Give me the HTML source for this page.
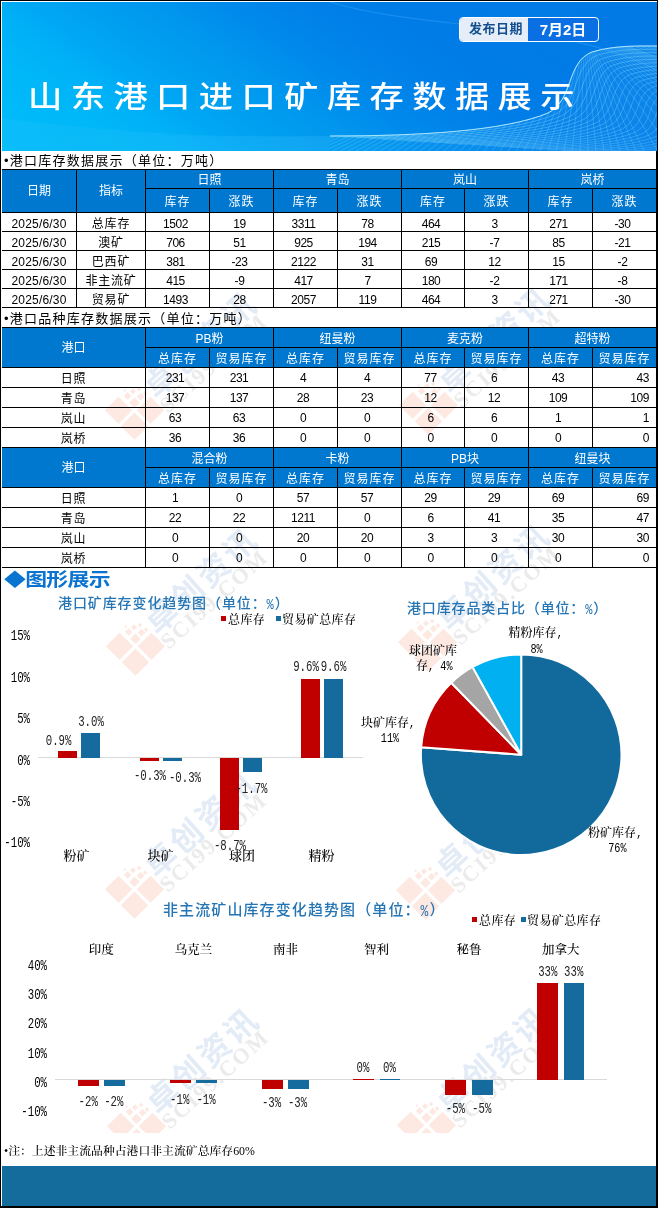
<!DOCTYPE html><html lang="zh"><head><meta charset="utf-8"><title>山东港口进口矿库存数据展示</title><style>
html,body{margin:0;padding:0;background:#fff}
body{width:658px;height:1208px;position:relative;overflow:hidden;font-family:"Liberation Sans","Noto Sans CJK SC",sans-serif;color:#000}
.a{position:absolute}
.c{position:absolute;text-align:center;font-size:12px;white-space:nowrap;overflow:visible}
.h{background:#0078d0;color:#fff}
.ln{position:absolute;background:#000}
.sec{position:absolute;left:4px;font-size:13px;letter-spacing:1.25px;white-space:nowrap;line-height:16px}
.s{font-family:"Liberation Serif","Noto Serif CJK SC",serif}
.lbl{position:absolute;font-family:"Liberation Serif","Noto Serif CJK SC",serif;font-weight:500;font-size:12px;white-space:nowrap;line-height:12px;text-align:center}
.dl{position:absolute;font-family:"Liberation Mono",monospace;font-size:10.7px;white-space:nowrap;line-height:10px;text-align:center;color:#222;transform:scaleY(1.3);margin-top:2.5px}
.n{font-family:"Liberation Mono",monospace;font-size:10.2px;display:inline-block;transform:scaleY(1.2)}
.lg{letter-spacing:.4px}
.ct{position:absolute;font-size:14px;font-weight:500;color:#2575b4;white-space:nowrap;line-height:16px;letter-spacing:.9px}
.wm{position:absolute;width:0;height:0;transform:rotate(-42deg)}

</style></head><body>
<div class="a" style="left:2px;top:2px;width:655px;height:149px;overflow:hidden;background:linear-gradient(35deg,#00bcfa 0%,#00b7f8 15%,#00b1f7 22%,#00a8f4 27%,#00a0f1 33%,#0096ee 42%,#008aeb 50%,#0080e8 60%,#007ce7 68%,#027ae6 100%)">
<svg class="a" style="left:0;top:0" width="655" height="149" viewBox="2 2 655 149"><defs><linearGradient id="g1" x1="0" y1="0" x2="1" y2="0"><stop offset="0" stop-color="#40c4ff" stop-opacity="0"/><stop offset=".45" stop-color="#40c4ff" stop-opacity=".25"/><stop offset="1" stop-color="#39b0ff" stop-opacity=".45"/></linearGradient></defs><path d="M330.0 136.0 C420.0 136.0 505.0 131.0 548.0 113.0 C574.0 100.0 566.0 62.0 592.0 52.0 C615.0 45.0 640.0 46.0 660.0 46.0 L660 151 L2 151 L2 136 Z" fill="url(#g1)" opacity=".42"/><path d="M2 118 C120 134 240 138 330 136 L330 151 L2 151 Z" fill="#4fd0ff" opacity=".12"/><path d="M330.0 136.0 C420.0 136.0 505.0 131.0 548.0 113.0 C574.0 100.0 566.0 62.0 592.0 52.0 C615.0 45.0 640.0 46.0 660.0 46.0" fill="none" stroke="#9fe8ff" stroke-opacity="0.55" stroke-width=".6"/><path d="M342.9 136.8 C430.4 136.8 513.0 132.0 554.8 114.5 C580.0 101.8 572.3 64.9 597.5 55.2 C619.9 48.4 644.2 49.3 663.6 49.3" fill="none" stroke="#9fe8ff" stroke-opacity="0.54" stroke-width=".6"/><path d="M355.8 137.6 C440.7 137.6 521.0 132.9 561.6 115.9 C586.1 103.6 578.5 67.8 603.1 58.3 C624.8 51.7 648.4 52.7 667.3 52.7" fill="none" stroke="#9fe8ff" stroke-opacity="0.53" stroke-width=".6"/><path d="M368.6 138.4 C451.1 138.4 528.9 133.9 568.3 117.4 C592.1 105.5 584.8 70.7 608.6 61.5 C629.7 55.1 652.6 56.0 670.9 56.0" fill="none" stroke="#9fe8ff" stroke-opacity="0.53" stroke-width=".6"/><path d="M381.5 139.2 C461.4 139.2 536.9 134.8 575.1 118.8 C598.2 107.3 591.1 73.5 614.2 64.7 C634.6 58.4 656.8 59.3 674.6 59.3" fill="none" stroke="#9fe8ff" stroke-opacity="0.52" stroke-width=".6"/><path d="M394.4 140.1 C471.8 140.1 544.9 135.8 581.9 120.3 C604.2 109.1 597.4 76.4 619.7 67.8 C639.5 61.8 661.0 62.7 678.2 62.7" fill="none" stroke="#9fe8ff" stroke-opacity="0.51" stroke-width=".6"/><path d="M407.3 140.9 C482.2 140.9 552.9 136.7 588.7 121.7 C610.3 110.9 603.6 79.3 625.3 71.0 C644.4 65.2 665.2 66.0 681.8 66.0" fill="none" stroke="#9fe8ff" stroke-opacity="0.50" stroke-width=".6"/><path d="M420.2 141.7 C492.5 141.7 560.9 137.7 595.4 123.2 C616.3 112.7 609.9 82.2 630.8 74.1 C649.3 68.5 669.4 69.3 685.5 69.3" fill="none" stroke="#9fe8ff" stroke-opacity="0.49" stroke-width=".6"/><path d="M433.0 142.5 C502.9 142.5 568.8 138.6 602.2 124.6 C622.4 114.6 616.2 85.1 636.4 77.3 C654.2 71.9 673.6 72.7 689.1 72.7" fill="none" stroke="#9fe8ff" stroke-opacity="0.49" stroke-width=".6"/><path d="M445.9 143.3 C513.2 143.3 576.8 139.6 609.0 126.1 C628.4 116.4 622.4 88.0 641.9 80.5 C659.1 75.2 677.8 76.0 692.8 76.0" fill="none" stroke="#9fe8ff" stroke-opacity="0.48" stroke-width=".6"/><path d="M458.8 144.1 C523.6 144.1 584.8 140.5 615.8 127.6 C634.5 118.2 628.7 90.8 647.4 83.6 C664.0 78.6 682.0 79.3 696.4 79.3" fill="none" stroke="#9fe8ff" stroke-opacity="0.47" stroke-width=".6"/><path d="M471.7 144.9 C534.0 144.9 592.8 141.5 622.5 129.0 C640.5 120.0 635.0 93.7 653.0 86.8 C668.9 82.0 686.2 82.7 700.0 82.7" fill="none" stroke="#9fe8ff" stroke-opacity="0.46" stroke-width=".6"/><path d="M484.6 145.7 C544.3 145.7 600.8 142.4 629.3 130.5 C646.6 121.8 641.3 96.6 658.5 90.0 C673.8 85.3 690.4 86.0 703.7 86.0" fill="none" stroke="#9fe8ff" stroke-opacity="0.45" stroke-width=".6"/><path d="M497.4 146.6 C554.7 146.6 608.7 143.4 636.1 131.9 C652.6 123.7 647.5 99.5 664.1 93.1 C678.7 88.7 694.6 89.3 707.3 89.3" fill="none" stroke="#9fe8ff" stroke-opacity="0.45" stroke-width=".6"/><path d="M510.3 147.4 C565.0 147.4 616.7 144.3 642.9 133.4 C658.7 125.5 653.8 102.4 669.6 96.3 C683.6 92.0 698.8 92.6 711.0 92.6" fill="none" stroke="#9fe8ff" stroke-opacity="0.44" stroke-width=".6"/><path d="M523.2 148.2 C575.4 148.2 624.7 145.3 649.6 134.8 C664.7 127.3 660.1 105.3 675.2 99.5 C688.5 95.4 703.0 96.0 714.6 96.0" fill="none" stroke="#9fe8ff" stroke-opacity="0.43" stroke-width=".6"/><path d="M536.1 149.0 C585.8 149.0 632.7 146.2 656.4 136.3 C670.8 129.1 666.4 108.1 680.7 102.6 C693.4 98.8 707.2 99.3 718.2 99.3" fill="none" stroke="#9fe8ff" stroke-opacity="0.42" stroke-width=".6"/><path d="M549.0 149.8 C596.1 149.8 640.7 147.2 663.2 137.8 C676.8 130.9 672.6 111.0 686.2 105.8 C698.3 102.1 711.4 102.6 721.9 102.6" fill="none" stroke="#9fe8ff" stroke-opacity="0.41" stroke-width=".6"/><path d="M561.8 150.6 C606.5 150.6 648.6 148.1 670.0 139.2 C682.9 132.8 678.9 113.9 691.8 109.0 C703.2 105.5 715.6 106.0 725.5 106.0" fill="none" stroke="#9fe8ff" stroke-opacity="0.41" stroke-width=".6"/><path d="M574.7 151.4 C616.8 151.4 656.6 149.1 676.7 140.7 C688.9 134.6 685.2 116.8 697.3 112.1 C708.1 108.8 719.8 109.3 729.2 109.3" fill="none" stroke="#9fe8ff" stroke-opacity="0.40" stroke-width=".6"/><path d="M587.6 152.2 C627.2 152.2 664.6 150.0 683.5 142.1 C695.0 136.4 691.4 119.7 702.9 115.3 C713.0 112.2 724.0 112.6 732.8 112.6" fill="none" stroke="#9fe8ff" stroke-opacity="0.39" stroke-width=".6"/><path d="M600.5 153.1 C637.6 153.1 672.6 151.0 690.3 143.6 C701.0 138.2 697.7 122.6 708.4 118.4 C717.9 115.6 728.2 116.0 736.4 116.0" fill="none" stroke="#9fe8ff" stroke-opacity="0.38" stroke-width=".6"/><path d="M613.4 153.9 C647.9 153.9 680.6 151.9 697.1 145.0 C707.1 140.0 704.0 125.4 714.0 121.6 C722.8 118.9 732.4 119.3 740.1 119.3" fill="none" stroke="#9fe8ff" stroke-opacity="0.37" stroke-width=".6"/><path d="M626.2 154.7 C658.3 154.7 688.5 152.9 703.8 146.5 C713.1 141.9 710.3 128.3 719.5 124.8 C727.7 122.3 736.6 122.6 743.7 122.6" fill="none" stroke="#9fe8ff" stroke-opacity="0.37" stroke-width=".6"/><path d="M639.1 155.5 C668.6 155.5 696.5 153.8 710.6 147.9 C719.2 143.7 716.5 131.2 725.1 127.9 C732.6 125.6 740.8 126.0 747.4 126.0" fill="none" stroke="#9fe8ff" stroke-opacity="0.36" stroke-width=".6"/><path d="M652.0 156.3 C679.0 156.3 704.5 154.8 717.4 149.4 C725.2 145.5 722.8 134.1 730.6 131.1 C737.5 129.0 745.0 129.3 751.0 129.3" fill="none" stroke="#9fe8ff" stroke-opacity="0.35" stroke-width=".6"/><path d="M664.9 157.1 C689.4 157.1 712.5 155.8 724.2 150.9 C731.2 147.3 729.1 137.0 736.1 134.3 C742.4 132.4 749.2 132.6 754.6 132.6" fill="none" stroke="#9fe8ff" stroke-opacity="0.34" stroke-width=".6"/><path d="M677.8 157.9 C699.7 157.9 720.5 156.7 731.0 152.3 C737.3 149.1 735.3 139.9 741.7 137.4 C747.3 135.7 753.4 136.0 758.3 136.0" fill="none" stroke="#9fe8ff" stroke-opacity="0.33" stroke-width=".6"/><path d="M690.6 158.7 C710.1 158.7 728.4 157.7 737.7 153.8 C743.3 151.0 741.6 142.8 747.2 140.6 C752.2 139.1 757.6 139.3 761.9 139.3" fill="none" stroke="#9fe8ff" stroke-opacity="0.33" stroke-width=".6"/><path d="M703.5 159.5 C720.4 159.5 736.4 158.6 744.5 155.2 C749.4 152.8 747.9 145.6 752.8 143.8 C757.1 142.4 761.8 142.6 765.6 142.6" fill="none" stroke="#9fe8ff" stroke-opacity="0.32" stroke-width=".6"/><clipPath id="cp"><path d="M330.0 136.0 C420.0 136.0 505.0 131.0 548.0 113.0 C574.0 100.0 566.0 62.0 592.0 52.0 C615.0 45.0 640.0 46.0 660.0 46.0 L660 151 L330 151 Z"/></clipPath><path clip-path="url(#cp)" d="M585 30 L300.0 151 M585 30 L308.0 151 M585 30 L316.0 151 M585 30 L324.0 151 M585 30 L332.0 151 M585 30 L340.0 151 M585 30 L348.0 151 M585 30 L356.0 151 M585 30 L364.0 151 M585 30 L372.0 151 M585 30 L380.0 151 M585 30 L388.0 151 M585 30 L396.0 151 M585 30 L404.0 151 M585 30 L412.0 151 M585 30 L420.0 151 M585 30 L428.0 151 M585 30 L436.0 151 M585 30 L444.0 151 M585 30 L452.0 151 M585 30 L460.0 151 M585 30 L468.0 151 M585 30 L476.0 151 M585 30 L484.0 151 M585 30 L492.0 151 M585 30 L500.0 151 M585 30 L508.0 151 M585 30 L516.0 151 M585 30 L524.0 151 M585 30 L532.0 151 M585 30 L540.0 151 M585 30 L548.0 151 M585 30 L556.0 151 M585 30 L564.0 151 M585 30 L572.0 151 M585 30 L580.0 151 M585 30 L588.0 151 M585 30 L596.0 151 M585 30 L604.0 151 M585 30 L612.0 151 M585 30 L620.0 151 M585 30 L628.0 151 M585 30 L636.0 151 M585 30 L644.0 151 M585 30 L658.0 151 M585 30 L672.0 151 M585 30 L686.0 151 M585 30 L700.0 151 M585 30 L714.0 151 M585 30 L728.0 151 M585 30 L742.0 151 M585 30 L756.0 151 M585 30 L770.0 151 M585 30 L784.0 151 M585 30 L798.0 151 M585 30 L812.0 151 M585 30 L826.0 151 M585 30 L840.0 151 M585 30 L854.0 151 M585 30 L868.0 151 M585 30 L882.0 151 M585 30 L896.0 151 M585 30 L910.0 151 M585 30 L950.0 151 M585 30 L990.0 151 M585 30 L1030.0 151 M585 30 L1070.0 151 M585 30 L1110.0 151 M585 30 L1150.0 151 M585 30 L1190.0 151 M585 30 L1230.0 151 M585 30 L1270.0 151 M585 30 L1310.0 151 M585 30 L1350.0 151 M585 30 L1390.0 151 M585 30 L1430.0 151 M585 30 L1470.0 151" fill="none" stroke="#9fe8ff" stroke-opacity=".42" stroke-width=".55"/><path d="M330.0 136.0 C420.0 136.0 505.0 131.0 548.0 113.0 C574.0 100.0 566.0 62.0 592.0 52.0 C615.0 45.0 640.0 46.0 660.0 46.0" fill="none" stroke="#c8f4ff" stroke-opacity=".8" stroke-width="1"/><path d="M330 2 C420 30 560 20 657 70" fill="none" stroke="#4fb8ff" stroke-opacity=".3" stroke-width="1.2"/></svg>
</div>
<div class="a" style="left:28px;top:77px;font-size:29.5px;font-weight:500;line-height:40px;letter-spacing:7.3px;color:#fff;white-space:nowrap;transform:scaleX(1.16);transform-origin:0 0">山东港口进口矿库存数据展示</div>
<div class="a" style="left:459px;top:17px;width:138px;height:23px;border:1px solid #fff;border-radius:4px;overflow:hidden;background:#0a6fe2"><div class="a" style="left:0;top:0;width:68px;height:23px;background:#e4edf8;color:#134f8f;font-weight:bold;font-size:13px;line-height:22px;text-align:center;letter-spacing:.5px;padding-left:4px;box-sizing:border-box">发布日期</div><div class="a" style="left:68px;top:0;width:70px;height:23px;color:#fff;font-weight:bold;font-size:15px;line-height:23px;text-align:center">7月2日</div></div>
<div class="a" style="left:0;top:0;width:658px;height:1133px;overflow:hidden">
<div class="wm" style="left:133.0px;top:413.0px"><svg class="a" style="left:-19.5px;top:-23.5px;transform:rotate(-3deg)" width="45" height="45" viewBox="0 0 42 42"><g fill="#f4a384" opacity=".24"><rect x="1" y="1" width="18" height="18"/><rect x="1" y="22" width="18" height="18"/><rect x="22" y="22" width="18" height="18"/><rect x="22" y="12" width="7" height="7"/><rect x="31" y="13" width="5" height="5"/><rect x="23" y="4" width="5" height="5"/><rect x="30" y="5" width="4" height="4"/><rect x="36" y="8" width="3" height="3"/><rect x="37" y="15" width="3" height="3"/><rect x="26" y="0" width="2" height="2"/></g></svg><div class="a" style="left:26px;top:-21px;font-size:32px;letter-spacing:3px;font-weight:bold;color:#e3ecf6;white-space:nowrap;line-height:32px">卓创资讯</div><div class="a s" style="left:25px;top:6px;font-size:22px;font-weight:bold;color:#ebebeb;white-space:nowrap;line-height:22px;letter-spacing:2px">SCI99.COM</div></div>
<div class="wm" style="left:426.5px;top:407.5px"><svg class="a" style="left:-19.5px;top:-23.5px;transform:rotate(-3deg)" width="45" height="45" viewBox="0 0 42 42"><g fill="#f4a384" opacity=".24"><rect x="1" y="1" width="18" height="18"/><rect x="1" y="22" width="18" height="18"/><rect x="22" y="22" width="18" height="18"/><rect x="22" y="12" width="7" height="7"/><rect x="31" y="13" width="5" height="5"/><rect x="23" y="4" width="5" height="5"/><rect x="30" y="5" width="4" height="4"/><rect x="36" y="8" width="3" height="3"/><rect x="37" y="15" width="3" height="3"/><rect x="26" y="0" width="2" height="2"/></g></svg><div class="a" style="left:26px;top:-21px;font-size:32px;letter-spacing:3px;font-weight:bold;color:#e3ecf6;white-space:nowrap;line-height:32px">卓创资讯</div><div class="a s" style="left:25px;top:6px;font-size:22px;font-weight:bold;color:#ebebeb;white-space:nowrap;line-height:22px;letter-spacing:2px">SCI99.COM</div></div>
<div class="wm" style="left:133.8px;top:649.4px"><svg class="a" style="left:-19.5px;top:-23.5px;transform:rotate(-3deg)" width="45" height="45" viewBox="0 0 42 42"><g fill="#f4a384" opacity=".24"><rect x="1" y="1" width="18" height="18"/><rect x="1" y="22" width="18" height="18"/><rect x="22" y="22" width="18" height="18"/><rect x="22" y="12" width="7" height="7"/><rect x="31" y="13" width="5" height="5"/><rect x="23" y="4" width="5" height="5"/><rect x="30" y="5" width="4" height="4"/><rect x="36" y="8" width="3" height="3"/><rect x="37" y="15" width="3" height="3"/><rect x="26" y="0" width="2" height="2"/></g></svg><div class="a" style="left:26px;top:-21px;font-size:32px;letter-spacing:3px;font-weight:bold;color:#e3ecf6;white-space:nowrap;line-height:32px">卓创资讯</div><div class="a s" style="left:25px;top:6px;font-size:22px;font-weight:bold;color:#ebebeb;white-space:nowrap;line-height:22px;letter-spacing:2px">SCI99.COM</div></div>
<div class="wm" style="left:425.7px;top:645.0px"><svg class="a" style="left:-19.5px;top:-23.5px;transform:rotate(-3deg)" width="45" height="45" viewBox="0 0 42 42"><g fill="#f4a384" opacity=".24"><rect x="1" y="1" width="18" height="18"/><rect x="1" y="22" width="18" height="18"/><rect x="22" y="22" width="18" height="18"/><rect x="22" y="12" width="7" height="7"/><rect x="31" y="13" width="5" height="5"/><rect x="23" y="4" width="5" height="5"/><rect x="30" y="5" width="4" height="4"/><rect x="36" y="8" width="3" height="3"/><rect x="37" y="15" width="3" height="3"/><rect x="26" y="0" width="2" height="2"/></g></svg><div class="a" style="left:26px;top:-21px;font-size:32px;letter-spacing:3px;font-weight:bold;color:#e3ecf6;white-space:nowrap;line-height:32px">卓创资讯</div><div class="a s" style="left:25px;top:6px;font-size:22px;font-weight:bold;color:#ebebeb;white-space:nowrap;line-height:22px;letter-spacing:2px">SCI99.COM</div></div>
<div class="wm" style="left:132.8px;top:891.7px"><svg class="a" style="left:-19.5px;top:-23.5px;transform:rotate(-3deg)" width="45" height="45" viewBox="0 0 42 42"><g fill="#f4a384" opacity=".24"><rect x="1" y="1" width="18" height="18"/><rect x="1" y="22" width="18" height="18"/><rect x="22" y="22" width="18" height="18"/><rect x="22" y="12" width="7" height="7"/><rect x="31" y="13" width="5" height="5"/><rect x="23" y="4" width="5" height="5"/><rect x="30" y="5" width="4" height="4"/><rect x="36" y="8" width="3" height="3"/><rect x="37" y="15" width="3" height="3"/><rect x="26" y="0" width="2" height="2"/></g></svg><div class="a" style="left:26px;top:-21px;font-size:32px;letter-spacing:3px;font-weight:bold;color:#e3ecf6;white-space:nowrap;line-height:32px">卓创资讯</div><div class="a s" style="left:25px;top:6px;font-size:22px;font-weight:bold;color:#ebebeb;white-space:nowrap;line-height:22px;letter-spacing:2px">SCI99.COM</div></div>
<div class="wm" style="left:424.0px;top:893.0px"><svg class="a" style="left:-19.5px;top:-23.5px;transform:rotate(-3deg)" width="45" height="45" viewBox="0 0 42 42"><g fill="#f4a384" opacity=".24"><rect x="1" y="1" width="18" height="18"/><rect x="1" y="22" width="18" height="18"/><rect x="22" y="22" width="18" height="18"/><rect x="22" y="12" width="7" height="7"/><rect x="31" y="13" width="5" height="5"/><rect x="23" y="4" width="5" height="5"/><rect x="30" y="5" width="4" height="4"/><rect x="36" y="8" width="3" height="3"/><rect x="37" y="15" width="3" height="3"/><rect x="26" y="0" width="2" height="2"/></g></svg><div class="a" style="left:26px;top:-21px;font-size:32px;letter-spacing:3px;font-weight:bold;color:#e3ecf6;white-space:nowrap;line-height:32px">卓创资讯</div><div class="a s" style="left:25px;top:6px;font-size:22px;font-weight:bold;color:#ebebeb;white-space:nowrap;line-height:22px;letter-spacing:2px">SCI99.COM</div></div>
<div class="wm" style="left:134.7px;top:1128.5px"><svg class="a" style="left:-19.5px;top:-23.5px;transform:rotate(-3deg)" width="45" height="45" viewBox="0 0 42 42"><g fill="#f4a384" opacity=".24"><rect x="1" y="1" width="18" height="18"/><rect x="1" y="22" width="18" height="18"/><rect x="22" y="22" width="18" height="18"/><rect x="22" y="12" width="7" height="7"/><rect x="31" y="13" width="5" height="5"/><rect x="23" y="4" width="5" height="5"/><rect x="30" y="5" width="4" height="4"/><rect x="36" y="8" width="3" height="3"/><rect x="37" y="15" width="3" height="3"/><rect x="26" y="0" width="2" height="2"/></g></svg><div class="a" style="left:26px;top:-21px;font-size:32px;letter-spacing:3px;font-weight:bold;color:#e3ecf6;white-space:nowrap;line-height:32px">卓创资讯</div><div class="a s" style="left:25px;top:6px;font-size:22px;font-weight:bold;color:#ebebeb;white-space:nowrap;line-height:22px;letter-spacing:2px">SCI99.COM</div></div>
<div class="wm" style="left:424.8px;top:1128.0px"><svg class="a" style="left:-19.5px;top:-23.5px;transform:rotate(-3deg)" width="45" height="45" viewBox="0 0 42 42"><g fill="#f4a384" opacity=".24"><rect x="1" y="1" width="18" height="18"/><rect x="1" y="22" width="18" height="18"/><rect x="22" y="22" width="18" height="18"/><rect x="22" y="12" width="7" height="7"/><rect x="31" y="13" width="5" height="5"/><rect x="23" y="4" width="5" height="5"/><rect x="30" y="5" width="4" height="4"/><rect x="36" y="8" width="3" height="3"/><rect x="37" y="15" width="3" height="3"/><rect x="26" y="0" width="2" height="2"/></g></svg><div class="a" style="left:26px;top:-21px;font-size:32px;letter-spacing:3px;font-weight:bold;color:#e3ecf6;white-space:nowrap;line-height:32px">卓创资讯</div><div class="a s" style="left:25px;top:6px;font-size:22px;font-weight:bold;color:#ebebeb;white-space:nowrap;line-height:22px;letter-spacing:2px">SCI99.COM</div></div>
</div>
<div class="sec" style="top:153px">•港口库存数据展示（单位：万吨）</div>
<div class="sec" style="top:311px">•港口品种库存数据展示（单位：万吨）</div>
<div class="a h" style="left:2px;top:169px;width:654px;height:44px"></div>
<div class="c h" style="left:2px;top:170px;width:74px;height:42px;line-height:43px;">日期</div>
<div class="c h" style="left:77px;top:170px;width:68px;height:42px;line-height:43px;">指标</div>
<div class="c h" style="left:146px;top:170px;width:127px;height:18px;line-height:21px;">日照</div>
<div class="c h" style="left:146px;top:189px;width:63px;height:23px;line-height:26px;letter-spacing:1px;">库存</div>
<div class="c h" style="left:210px;top:189px;width:63px;height:23px;line-height:26px;letter-spacing:1px;">涨跌</div>
<div class="c h" style="left:274px;top:170px;width:127px;height:18px;line-height:21px;">青岛</div>
<div class="c h" style="left:274px;top:189px;width:63px;height:23px;line-height:26px;letter-spacing:1px;">库存</div>
<div class="c h" style="left:338px;top:189px;width:63px;height:23px;line-height:26px;letter-spacing:1px;">涨跌</div>
<div class="c h" style="left:402px;top:170px;width:126px;height:18px;line-height:21px;">岚山</div>
<div class="c h" style="left:402px;top:189px;width:62px;height:23px;line-height:26px;letter-spacing:1px;">库存</div>
<div class="c h" style="left:465px;top:189px;width:63px;height:23px;line-height:26px;letter-spacing:1px;">涨跌</div>
<div class="c h" style="left:529px;top:170px;width:127px;height:18px;line-height:21px;">岚桥</div>
<div class="c h" style="left:529px;top:189px;width:63px;height:23px;line-height:26px;letter-spacing:1px;">库存</div>
<div class="c h" style="left:593px;top:189px;width:63px;height:23px;line-height:26px;letter-spacing:1px;">涨跌</div>
<div class="c " style="left:2px;top:213px;width:74px;height:18px;line-height:22px;letter-spacing:.2px;">2025/6/30</div>
<div class="c " style="left:77px;top:213px;width:68px;height:18px;line-height:22px;letter-spacing:.8px;">总库存</div>
<div class="c " style="left:146px;top:213px;width:63px;height:18px;line-height:22px;letter-spacing:-.45px;padding-right:4px;box-sizing:border-box;">1502</div>
<div class="c " style="left:210px;top:213px;width:63px;height:18px;line-height:22px;letter-spacing:-.45px;padding-right:4px;box-sizing:border-box;">19</div>
<div class="c " style="left:274px;top:213px;width:63px;height:18px;line-height:22px;letter-spacing:-.45px;padding-right:4px;box-sizing:border-box;">3311</div>
<div class="c " style="left:338px;top:213px;width:63px;height:18px;line-height:22px;letter-spacing:-.45px;padding-right:4px;box-sizing:border-box;">78</div>
<div class="c " style="left:402px;top:213px;width:62px;height:18px;line-height:22px;letter-spacing:-.45px;padding-right:4px;box-sizing:border-box;">464</div>
<div class="c " style="left:465px;top:213px;width:63px;height:18px;line-height:22px;letter-spacing:-.45px;padding-right:4px;box-sizing:border-box;">3</div>
<div class="c " style="left:529px;top:213px;width:63px;height:18px;line-height:22px;letter-spacing:-.45px;padding-right:4px;box-sizing:border-box;">271</div>
<div class="c " style="left:593px;top:213px;width:63px;height:18px;line-height:22px;letter-spacing:-.45px;padding-right:4px;box-sizing:border-box;">-30</div>
<div class="c " style="left:2px;top:232px;width:74px;height:18px;line-height:22px;letter-spacing:.2px;">2025/6/30</div>
<div class="c " style="left:77px;top:232px;width:68px;height:18px;line-height:22px;letter-spacing:.8px;">澳矿</div>
<div class="c " style="left:146px;top:232px;width:63px;height:18px;line-height:22px;letter-spacing:-.45px;padding-right:4px;box-sizing:border-box;">706</div>
<div class="c " style="left:210px;top:232px;width:63px;height:18px;line-height:22px;letter-spacing:-.45px;padding-right:4px;box-sizing:border-box;">51</div>
<div class="c " style="left:274px;top:232px;width:63px;height:18px;line-height:22px;letter-spacing:-.45px;padding-right:4px;box-sizing:border-box;">925</div>
<div class="c " style="left:338px;top:232px;width:63px;height:18px;line-height:22px;letter-spacing:-.45px;padding-right:4px;box-sizing:border-box;">194</div>
<div class="c " style="left:402px;top:232px;width:62px;height:18px;line-height:22px;letter-spacing:-.45px;padding-right:4px;box-sizing:border-box;">215</div>
<div class="c " style="left:465px;top:232px;width:63px;height:18px;line-height:22px;letter-spacing:-.45px;padding-right:4px;box-sizing:border-box;">-7</div>
<div class="c " style="left:529px;top:232px;width:63px;height:18px;line-height:22px;letter-spacing:-.45px;padding-right:4px;box-sizing:border-box;">85</div>
<div class="c " style="left:593px;top:232px;width:63px;height:18px;line-height:22px;letter-spacing:-.45px;padding-right:4px;box-sizing:border-box;">-21</div>
<div class="c " style="left:2px;top:251px;width:74px;height:18px;line-height:22px;letter-spacing:.2px;">2025/6/30</div>
<div class="c " style="left:77px;top:251px;width:68px;height:18px;line-height:22px;letter-spacing:.8px;">巴西矿</div>
<div class="c " style="left:146px;top:251px;width:63px;height:18px;line-height:22px;letter-spacing:-.45px;padding-right:4px;box-sizing:border-box;">381</div>
<div class="c " style="left:210px;top:251px;width:63px;height:18px;line-height:22px;letter-spacing:-.45px;padding-right:4px;box-sizing:border-box;">-23</div>
<div class="c " style="left:274px;top:251px;width:63px;height:18px;line-height:22px;letter-spacing:-.45px;padding-right:4px;box-sizing:border-box;">2122</div>
<div class="c " style="left:338px;top:251px;width:63px;height:18px;line-height:22px;letter-spacing:-.45px;padding-right:4px;box-sizing:border-box;">31</div>
<div class="c " style="left:402px;top:251px;width:62px;height:18px;line-height:22px;letter-spacing:-.45px;padding-right:4px;box-sizing:border-box;">69</div>
<div class="c " style="left:465px;top:251px;width:63px;height:18px;line-height:22px;letter-spacing:-.45px;padding-right:4px;box-sizing:border-box;">12</div>
<div class="c " style="left:529px;top:251px;width:63px;height:18px;line-height:22px;letter-spacing:-.45px;padding-right:4px;box-sizing:border-box;">15</div>
<div class="c " style="left:593px;top:251px;width:63px;height:18px;line-height:22px;letter-spacing:-.45px;padding-right:4px;box-sizing:border-box;">-2</div>
<div class="c " style="left:2px;top:270px;width:74px;height:18px;line-height:22px;letter-spacing:.2px;">2025/6/30</div>
<div class="c " style="left:77px;top:270px;width:68px;height:18px;line-height:22px;letter-spacing:.8px;">非主流矿</div>
<div class="c " style="left:146px;top:270px;width:63px;height:18px;line-height:22px;letter-spacing:-.45px;padding-right:4px;box-sizing:border-box;">415</div>
<div class="c " style="left:210px;top:270px;width:63px;height:18px;line-height:22px;letter-spacing:-.45px;padding-right:4px;box-sizing:border-box;">-9</div>
<div class="c " style="left:274px;top:270px;width:63px;height:18px;line-height:22px;letter-spacing:-.45px;padding-right:4px;box-sizing:border-box;">417</div>
<div class="c " style="left:338px;top:270px;width:63px;height:18px;line-height:22px;letter-spacing:-.45px;padding-right:4px;box-sizing:border-box;">7</div>
<div class="c " style="left:402px;top:270px;width:62px;height:18px;line-height:22px;letter-spacing:-.45px;padding-right:4px;box-sizing:border-box;">180</div>
<div class="c " style="left:465px;top:270px;width:63px;height:18px;line-height:22px;letter-spacing:-.45px;padding-right:4px;box-sizing:border-box;">-2</div>
<div class="c " style="left:529px;top:270px;width:63px;height:18px;line-height:22px;letter-spacing:-.45px;padding-right:4px;box-sizing:border-box;">171</div>
<div class="c " style="left:593px;top:270px;width:63px;height:18px;line-height:22px;letter-spacing:-.45px;padding-right:4px;box-sizing:border-box;">-8</div>
<div class="c " style="left:2px;top:289px;width:74px;height:18px;line-height:22px;letter-spacing:.2px;">2025/6/30</div>
<div class="c " style="left:77px;top:289px;width:68px;height:18px;line-height:22px;letter-spacing:.8px;">贸易矿</div>
<div class="c " style="left:146px;top:289px;width:63px;height:18px;line-height:22px;letter-spacing:-.45px;padding-right:4px;box-sizing:border-box;">1493</div>
<div class="c " style="left:210px;top:289px;width:63px;height:18px;line-height:22px;letter-spacing:-.45px;padding-right:4px;box-sizing:border-box;">28</div>
<div class="c " style="left:274px;top:289px;width:63px;height:18px;line-height:22px;letter-spacing:-.45px;padding-right:4px;box-sizing:border-box;">2057</div>
<div class="c " style="left:338px;top:289px;width:63px;height:18px;line-height:22px;letter-spacing:-.45px;padding-right:4px;box-sizing:border-box;">119</div>
<div class="c " style="left:402px;top:289px;width:62px;height:18px;line-height:22px;letter-spacing:-.45px;padding-right:4px;box-sizing:border-box;">464</div>
<div class="c " style="left:465px;top:289px;width:63px;height:18px;line-height:22px;letter-spacing:-.45px;padding-right:4px;box-sizing:border-box;">3</div>
<div class="c " style="left:529px;top:289px;width:63px;height:18px;line-height:22px;letter-spacing:-.45px;padding-right:4px;box-sizing:border-box;">271</div>
<div class="c " style="left:593px;top:289px;width:63px;height:18px;line-height:22px;letter-spacing:-.45px;padding-right:4px;box-sizing:border-box;">-30</div>
<div class="ln" style="left:2px;top:169px;width:654px;height:1px"></div>
<div class="ln" style="left:145px;top:188px;width:511px;height:1px"></div>
<div class="ln" style="left:2px;top:212px;width:654px;height:1px"></div>
<div class="ln" style="left:2px;top:231px;width:654px;height:1px"></div>
<div class="ln" style="left:2px;top:250px;width:654px;height:1px"></div>
<div class="ln" style="left:2px;top:269px;width:654px;height:1px"></div>
<div class="ln" style="left:2px;top:288px;width:654px;height:1px"></div>
<div class="ln" style="left:2px;top:307px;width:654px;height:1px"></div>
<div class="ln" style="left:76px;top:169px;width:1px;height:139px"></div>
<div class="ln" style="left:145px;top:169px;width:1px;height:139px"></div>
<div class="ln" style="left:209px;top:188px;width:1px;height:120px"></div>
<div class="ln" style="left:273px;top:169px;width:1px;height:139px"></div>
<div class="ln" style="left:337px;top:188px;width:1px;height:120px"></div>
<div class="ln" style="left:401px;top:169px;width:1px;height:139px"></div>
<div class="ln" style="left:464px;top:188px;width:1px;height:120px"></div>
<div class="ln" style="left:528px;top:169px;width:1px;height:139px"></div>
<div class="ln" style="left:592px;top:188px;width:1px;height:120px"></div>
<div class="a h" style="left:2px;top:327px;width:654px;height:41px"></div>
<div class="c h" style="left:2px;top:327px;width:143px;height:40px;line-height:43px;">港口</div>
<div class="c h" style="left:146px;top:328px;width:127px;height:19px;line-height:22px;">PB粉</div>
<div class="c h" style="left:146px;top:348px;width:63px;height:19px;line-height:22px;letter-spacing:1px;">总库存</div>
<div class="c h" style="left:210px;top:348px;width:63px;height:19px;line-height:22px;letter-spacing:1px;">贸易库存</div>
<div class="c h" style="left:274px;top:328px;width:127px;height:19px;line-height:22px;">纽曼粉</div>
<div class="c h" style="left:274px;top:348px;width:63px;height:19px;line-height:22px;letter-spacing:1px;">总库存</div>
<div class="c h" style="left:338px;top:348px;width:63px;height:19px;line-height:22px;letter-spacing:1px;">贸易库存</div>
<div class="c h" style="left:402px;top:328px;width:126px;height:19px;line-height:22px;">麦克粉</div>
<div class="c h" style="left:402px;top:348px;width:62px;height:19px;line-height:22px;letter-spacing:1px;">总库存</div>
<div class="c h" style="left:465px;top:348px;width:63px;height:19px;line-height:22px;letter-spacing:1px;">贸易库存</div>
<div class="c h" style="left:529px;top:328px;width:127px;height:19px;line-height:22px;">超特粉</div>
<div class="c h" style="left:529px;top:348px;width:63px;height:19px;line-height:22px;letter-spacing:1px;">总库存</div>
<div class="c h" style="left:593px;top:348px;width:63px;height:19px;line-height:22px;letter-spacing:1px;">贸易库存</div>
<div class="c " style="left:2px;top:368px;width:143px;height:19px;line-height:22px;letter-spacing:.7px;">日照</div>
<div class="c " style="left:146px;top:368px;width:63px;height:19px;line-height:21px;letter-spacing:-.45px;padding-right:5px;box-sizing:border-box;">231</div>
<div class="c " style="left:210px;top:368px;width:63px;height:19px;line-height:21px;letter-spacing:-.45px;padding-right:5px;box-sizing:border-box;">231</div>
<div class="c " style="left:274px;top:368px;width:63px;height:19px;line-height:21px;letter-spacing:-.45px;padding-right:5px;box-sizing:border-box;">4</div>
<div class="c " style="left:338px;top:368px;width:63px;height:19px;line-height:21px;letter-spacing:-.45px;padding-right:5px;box-sizing:border-box;">4</div>
<div class="c " style="left:402px;top:368px;width:62px;height:19px;line-height:21px;letter-spacing:-.45px;padding-right:5px;box-sizing:border-box;">77</div>
<div class="c " style="left:465px;top:368px;width:63px;height:19px;line-height:21px;letter-spacing:-.45px;padding-right:5px;box-sizing:border-box;">6</div>
<div class="c " style="left:529px;top:368px;width:63px;height:19px;line-height:21px;letter-spacing:-.45px;padding-right:5px;box-sizing:border-box;">43</div>
<div class="c " style="left:593px;top:368px;width:63px;height:19px;line-height:21px;letter-spacing:-.45px;text-align:right;padding-right:7px;box-sizing:border-box;">43</div>
<div class="c " style="left:2px;top:388px;width:143px;height:19px;line-height:22px;letter-spacing:.7px;">青岛</div>
<div class="c " style="left:146px;top:388px;width:63px;height:19px;line-height:21px;letter-spacing:-.45px;padding-right:5px;box-sizing:border-box;">137</div>
<div class="c " style="left:210px;top:388px;width:63px;height:19px;line-height:21px;letter-spacing:-.45px;padding-right:5px;box-sizing:border-box;">137</div>
<div class="c " style="left:274px;top:388px;width:63px;height:19px;line-height:21px;letter-spacing:-.45px;padding-right:5px;box-sizing:border-box;">28</div>
<div class="c " style="left:338px;top:388px;width:63px;height:19px;line-height:21px;letter-spacing:-.45px;padding-right:5px;box-sizing:border-box;">23</div>
<div class="c " style="left:402px;top:388px;width:62px;height:19px;line-height:21px;letter-spacing:-.45px;padding-right:5px;box-sizing:border-box;">12</div>
<div class="c " style="left:465px;top:388px;width:63px;height:19px;line-height:21px;letter-spacing:-.45px;padding-right:5px;box-sizing:border-box;">12</div>
<div class="c " style="left:529px;top:388px;width:63px;height:19px;line-height:21px;letter-spacing:-.45px;padding-right:5px;box-sizing:border-box;">109</div>
<div class="c " style="left:593px;top:388px;width:63px;height:19px;line-height:21px;letter-spacing:-.45px;text-align:right;padding-right:7px;box-sizing:border-box;">109</div>
<div class="c " style="left:2px;top:408px;width:143px;height:19px;line-height:22px;letter-spacing:.7px;">岚山</div>
<div class="c " style="left:146px;top:408px;width:63px;height:19px;line-height:21px;letter-spacing:-.45px;padding-right:5px;box-sizing:border-box;">63</div>
<div class="c " style="left:210px;top:408px;width:63px;height:19px;line-height:21px;letter-spacing:-.45px;padding-right:5px;box-sizing:border-box;">63</div>
<div class="c " style="left:274px;top:408px;width:63px;height:19px;line-height:21px;letter-spacing:-.45px;padding-right:5px;box-sizing:border-box;">0</div>
<div class="c " style="left:338px;top:408px;width:63px;height:19px;line-height:21px;letter-spacing:-.45px;padding-right:5px;box-sizing:border-box;">0</div>
<div class="c " style="left:402px;top:408px;width:62px;height:19px;line-height:21px;letter-spacing:-.45px;padding-right:5px;box-sizing:border-box;">6</div>
<div class="c " style="left:465px;top:408px;width:63px;height:19px;line-height:21px;letter-spacing:-.45px;padding-right:5px;box-sizing:border-box;">6</div>
<div class="c " style="left:529px;top:408px;width:63px;height:19px;line-height:21px;letter-spacing:-.45px;padding-right:5px;box-sizing:border-box;">1</div>
<div class="c " style="left:593px;top:408px;width:63px;height:19px;line-height:21px;letter-spacing:-.45px;text-align:right;padding-right:7px;box-sizing:border-box;">1</div>
<div class="c " style="left:2px;top:428px;width:143px;height:19px;line-height:22px;letter-spacing:.7px;">岚桥</div>
<div class="c " style="left:146px;top:428px;width:63px;height:19px;line-height:21px;letter-spacing:-.45px;padding-right:5px;box-sizing:border-box;">36</div>
<div class="c " style="left:210px;top:428px;width:63px;height:19px;line-height:21px;letter-spacing:-.45px;padding-right:5px;box-sizing:border-box;">36</div>
<div class="c " style="left:274px;top:428px;width:63px;height:19px;line-height:21px;letter-spacing:-.45px;padding-right:5px;box-sizing:border-box;">0</div>
<div class="c " style="left:338px;top:428px;width:63px;height:19px;line-height:21px;letter-spacing:-.45px;padding-right:5px;box-sizing:border-box;">0</div>
<div class="c " style="left:402px;top:428px;width:62px;height:19px;line-height:21px;letter-spacing:-.45px;padding-right:5px;box-sizing:border-box;">0</div>
<div class="c " style="left:465px;top:428px;width:63px;height:19px;line-height:21px;letter-spacing:-.45px;padding-right:5px;box-sizing:border-box;">0</div>
<div class="c " style="left:529px;top:428px;width:63px;height:19px;line-height:21px;letter-spacing:-.45px;padding-right:5px;box-sizing:border-box;">0</div>
<div class="c " style="left:593px;top:428px;width:63px;height:19px;line-height:21px;letter-spacing:-.45px;text-align:right;padding-right:7px;box-sizing:border-box;">0</div>
<div class="ln" style="left:2px;top:327px;width:654px;height:1px"></div>
<div class="ln" style="left:145px;top:347px;width:511px;height:1px"></div>
<div class="ln" style="left:2px;top:367px;width:654px;height:1px"></div>
<div class="ln" style="left:2px;top:387px;width:654px;height:1px"></div>
<div class="ln" style="left:2px;top:407px;width:654px;height:1px"></div>
<div class="ln" style="left:2px;top:427px;width:654px;height:1px"></div>
<div class="ln" style="left:2px;top:447px;width:654px;height:1px"></div>
<div class="ln" style="left:145px;top:327px;width:1px;height:121px"></div>
<div class="ln" style="left:209px;top:347px;width:1px;height:101px"></div>
<div class="ln" style="left:273px;top:327px;width:1px;height:121px"></div>
<div class="ln" style="left:337px;top:347px;width:1px;height:101px"></div>
<div class="ln" style="left:401px;top:327px;width:1px;height:121px"></div>
<div class="ln" style="left:464px;top:347px;width:1px;height:101px"></div>
<div class="ln" style="left:528px;top:327px;width:1px;height:121px"></div>
<div class="ln" style="left:592px;top:347px;width:1px;height:101px"></div>
<div class="a h" style="left:2px;top:447px;width:654px;height:41px"></div>
<div class="c h" style="left:2px;top:447px;width:143px;height:40px;line-height:43px;">港口</div>
<div class="c h" style="left:146px;top:448px;width:127px;height:19px;line-height:22px;">混合粉</div>
<div class="c h" style="left:146px;top:468px;width:63px;height:19px;line-height:22px;letter-spacing:1px;">总库存</div>
<div class="c h" style="left:210px;top:468px;width:63px;height:19px;line-height:22px;letter-spacing:1px;">贸易库存</div>
<div class="c h" style="left:274px;top:448px;width:127px;height:19px;line-height:22px;">卡粉</div>
<div class="c h" style="left:274px;top:468px;width:63px;height:19px;line-height:22px;letter-spacing:1px;">总库存</div>
<div class="c h" style="left:338px;top:468px;width:63px;height:19px;line-height:22px;letter-spacing:1px;">贸易库存</div>
<div class="c h" style="left:402px;top:448px;width:126px;height:19px;line-height:22px;">PB块</div>
<div class="c h" style="left:402px;top:468px;width:62px;height:19px;line-height:22px;letter-spacing:1px;">总库存</div>
<div class="c h" style="left:465px;top:468px;width:63px;height:19px;line-height:22px;letter-spacing:1px;">贸易库存</div>
<div class="c h" style="left:529px;top:448px;width:127px;height:19px;line-height:22px;">纽曼块</div>
<div class="c h" style="left:529px;top:468px;width:63px;height:19px;line-height:22px;letter-spacing:1px;">总库存</div>
<div class="c h" style="left:593px;top:468px;width:63px;height:19px;line-height:22px;letter-spacing:1px;">贸易库存</div>
<div class="c " style="left:2px;top:488px;width:143px;height:19px;line-height:22px;letter-spacing:.7px;">日照</div>
<div class="c " style="left:146px;top:488px;width:63px;height:19px;line-height:21px;letter-spacing:-.45px;padding-right:5px;box-sizing:border-box;">1</div>
<div class="c " style="left:210px;top:488px;width:63px;height:19px;line-height:21px;letter-spacing:-.45px;padding-right:5px;box-sizing:border-box;">0</div>
<div class="c " style="left:274px;top:488px;width:63px;height:19px;line-height:21px;letter-spacing:-.45px;padding-right:5px;box-sizing:border-box;">57</div>
<div class="c " style="left:338px;top:488px;width:63px;height:19px;line-height:21px;letter-spacing:-.45px;padding-right:5px;box-sizing:border-box;">57</div>
<div class="c " style="left:402px;top:488px;width:62px;height:19px;line-height:21px;letter-spacing:-.45px;padding-right:5px;box-sizing:border-box;">29</div>
<div class="c " style="left:465px;top:488px;width:63px;height:19px;line-height:21px;letter-spacing:-.45px;padding-right:5px;box-sizing:border-box;">29</div>
<div class="c " style="left:529px;top:488px;width:63px;height:19px;line-height:21px;letter-spacing:-.45px;padding-right:5px;box-sizing:border-box;">69</div>
<div class="c " style="left:593px;top:488px;width:63px;height:19px;line-height:21px;letter-spacing:-.45px;text-align:right;padding-right:7px;box-sizing:border-box;">69</div>
<div class="c " style="left:2px;top:508px;width:143px;height:19px;line-height:22px;letter-spacing:.7px;">青岛</div>
<div class="c " style="left:146px;top:508px;width:63px;height:19px;line-height:21px;letter-spacing:-.45px;padding-right:5px;box-sizing:border-box;">22</div>
<div class="c " style="left:210px;top:508px;width:63px;height:19px;line-height:21px;letter-spacing:-.45px;padding-right:5px;box-sizing:border-box;">22</div>
<div class="c " style="left:274px;top:508px;width:63px;height:19px;line-height:21px;letter-spacing:-.45px;padding-right:5px;box-sizing:border-box;">1211</div>
<div class="c " style="left:338px;top:508px;width:63px;height:19px;line-height:21px;letter-spacing:-.45px;padding-right:5px;box-sizing:border-box;">0</div>
<div class="c " style="left:402px;top:508px;width:62px;height:19px;line-height:21px;letter-spacing:-.45px;padding-right:5px;box-sizing:border-box;">6</div>
<div class="c " style="left:465px;top:508px;width:63px;height:19px;line-height:21px;letter-spacing:-.45px;padding-right:5px;box-sizing:border-box;">41</div>
<div class="c " style="left:529px;top:508px;width:63px;height:19px;line-height:21px;letter-spacing:-.45px;padding-right:5px;box-sizing:border-box;">35</div>
<div class="c " style="left:593px;top:508px;width:63px;height:19px;line-height:21px;letter-spacing:-.45px;text-align:right;padding-right:7px;box-sizing:border-box;">47</div>
<div class="c " style="left:2px;top:528px;width:143px;height:19px;line-height:22px;letter-spacing:.7px;">岚山</div>
<div class="c " style="left:146px;top:528px;width:63px;height:19px;line-height:21px;letter-spacing:-.45px;padding-right:5px;box-sizing:border-box;">0</div>
<div class="c " style="left:210px;top:528px;width:63px;height:19px;line-height:21px;letter-spacing:-.45px;padding-right:5px;box-sizing:border-box;">0</div>
<div class="c " style="left:274px;top:528px;width:63px;height:19px;line-height:21px;letter-spacing:-.45px;padding-right:5px;box-sizing:border-box;">20</div>
<div class="c " style="left:338px;top:528px;width:63px;height:19px;line-height:21px;letter-spacing:-.45px;padding-right:5px;box-sizing:border-box;">20</div>
<div class="c " style="left:402px;top:528px;width:62px;height:19px;line-height:21px;letter-spacing:-.45px;padding-right:5px;box-sizing:border-box;">3</div>
<div class="c " style="left:465px;top:528px;width:63px;height:19px;line-height:21px;letter-spacing:-.45px;padding-right:5px;box-sizing:border-box;">3</div>
<div class="c " style="left:529px;top:528px;width:63px;height:19px;line-height:21px;letter-spacing:-.45px;padding-right:5px;box-sizing:border-box;">30</div>
<div class="c " style="left:593px;top:528px;width:63px;height:19px;line-height:21px;letter-spacing:-.45px;text-align:right;padding-right:7px;box-sizing:border-box;">30</div>
<div class="c " style="left:2px;top:548px;width:143px;height:19px;line-height:22px;letter-spacing:.7px;">岚桥</div>
<div class="c " style="left:146px;top:548px;width:63px;height:19px;line-height:21px;letter-spacing:-.45px;padding-right:5px;box-sizing:border-box;">0</div>
<div class="c " style="left:210px;top:548px;width:63px;height:19px;line-height:21px;letter-spacing:-.45px;padding-right:5px;box-sizing:border-box;">0</div>
<div class="c " style="left:274px;top:548px;width:63px;height:19px;line-height:21px;letter-spacing:-.45px;padding-right:5px;box-sizing:border-box;">0</div>
<div class="c " style="left:338px;top:548px;width:63px;height:19px;line-height:21px;letter-spacing:-.45px;padding-right:5px;box-sizing:border-box;">0</div>
<div class="c " style="left:402px;top:548px;width:62px;height:19px;line-height:21px;letter-spacing:-.45px;padding-right:5px;box-sizing:border-box;">0</div>
<div class="c " style="left:465px;top:548px;width:63px;height:19px;line-height:21px;letter-spacing:-.45px;padding-right:5px;box-sizing:border-box;">0</div>
<div class="c " style="left:529px;top:548px;width:63px;height:19px;line-height:21px;letter-spacing:-.45px;padding-right:5px;box-sizing:border-box;">0</div>
<div class="c " style="left:593px;top:548px;width:63px;height:19px;line-height:21px;letter-spacing:-.45px;text-align:right;padding-right:7px;box-sizing:border-box;">0</div>
<div class="ln" style="left:2px;top:447px;width:654px;height:1px"></div>
<div class="ln" style="left:145px;top:467px;width:511px;height:1px"></div>
<div class="ln" style="left:2px;top:487px;width:654px;height:1px"></div>
<div class="ln" style="left:2px;top:507px;width:654px;height:1px"></div>
<div class="ln" style="left:2px;top:527px;width:654px;height:1px"></div>
<div class="ln" style="left:2px;top:547px;width:654px;height:1px"></div>
<div class="ln" style="left:2px;top:567px;width:654px;height:1px"></div>
<div class="ln" style="left:145px;top:447px;width:1px;height:121px"></div>
<div class="ln" style="left:209px;top:467px;width:1px;height:101px"></div>
<div class="ln" style="left:273px;top:447px;width:1px;height:121px"></div>
<div class="ln" style="left:337px;top:467px;width:1px;height:101px"></div>
<div class="ln" style="left:401px;top:447px;width:1px;height:121px"></div>
<div class="ln" style="left:464px;top:467px;width:1px;height:101px"></div>
<div class="ln" style="left:528px;top:447px;width:1px;height:121px"></div>
<div class="ln" style="left:592px;top:467px;width:1px;height:101px"></div>
<div class="a" style="left:4px;top:568px;font-size:19px;font-weight:bold;color:#0a74d0;letter-spacing:-.6px;line-height:24px;white-space:nowrap;transform:scale(1.15,.95);transform-origin:0 50%">◆图形展示</div>
<div class="ct" style="left:58px;top:595px">港口矿库存变化趋势图（单位：<span class="n" style="font-size:12px">%</span>）</div>
<div class="a" style="left:221px;top:616px;width:5px;height:5px;background:#c00000"></div>
<div class="lbl lg" style="left:228px;top:614px">总库存</div>
<div class="a" style="left:276px;top:616px;width:5px;height:5px;background:#156b9d"></div>
<div class="lbl lg" style="left:282px;top:614px">贸易矿总库存</div>
<div class="dl" style="left:0px;width:30px;top:628.8px;text-align:right;color:#000">15%</div>
<div class="dl" style="left:0px;width:30px;top:670.2px;text-align:right;color:#000">10%</div>
<div class="dl" style="left:0px;width:30px;top:711.6px;text-align:right;color:#000">5%</div>
<div class="dl" style="left:0px;width:30px;top:753.0px;text-align:right;color:#000">0%</div>
<div class="dl" style="left:0px;width:30px;top:794.4px;text-align:right;color:#000">-5%</div>
<div class="dl" style="left:0px;width:30px;top:835.8px;text-align:right;color:#000">-10%</div>
<div class="a" style="left:38px;top:757px;width:325px;height:1px;background:#d9d9d9"></div>
<div class="a" style="left:57.8px;top:750.5px;width:19.0px;height:7.5px;background:#c00000"></div>
<div class="a" style="left:80.8px;top:733.2px;width:19.0px;height:24.8px;background:#156b9d"></div>
<div class="a" style="left:139.5px;top:758.0px;width:19.0px;height:2.5px;background:#c00000"></div>
<div class="a" style="left:162.5px;top:758.0px;width:19.0px;height:2.5px;background:#156b9d"></div>
<div class="a" style="left:220.4px;top:758.0px;width:19.0px;height:72.0px;background:#c00000"></div>
<div class="a" style="left:243.4px;top:758.0px;width:19.0px;height:14.1px;background:#156b9d"></div>
<div class="a" style="left:301.3px;top:678.5px;width:19.0px;height:79.5px;background:#c00000"></div>
<div class="a" style="left:324.3px;top:678.5px;width:19.0px;height:79.5px;background:#156b9d"></div>
<div class="lbl" style="left:56.5px;width:40px;top:850px;font-size:13px">粉矿</div>
<div class="lbl" style="left:140.5px;width:40px;top:850px;font-size:13px">块矿</div>
<div class="lbl" style="left:222.0px;width:40px;top:850px;font-size:13px">球团</div>
<div class="lbl" style="left:301.5px;width:40px;top:850px;font-size:13px">精粉</div>
<div class="dl" style="left:38.6px;width:40px;top:733.0px">0.9%</div>
<div class="dl" style="left:71.0px;width:40px;top:714.5px">3.0%</div>
<div class="dl" style="left:130.0px;width:40px;top:768.0px">-0.3%</div>
<div class="dl" style="left:165.0px;width:40px;top:770.7px">-0.3%</div>
<div class="dl" style="left:210.0px;width:40px;top:838.3px">-8.7%</div>
<div class="dl" style="left:231.5px;width:40px;top:781.7px">-1.7%</div>
<div class="dl" style="left:286.0px;width:40px;top:659.5px">9.6%</div>
<div class="dl" style="left:313.5px;width:40px;top:659.5px">9.6%</div>
<div class="ct" style="left:407px;top:600px;letter-spacing:.85px">港口库存品类占比（单位：<span class="n" style="font-size:12px">%</span>）</div>
<svg class="a" style="left:0;top:0" width="658" height="1208" viewBox="0 0 658 1208"><path d="M521.20 754.70 L521.20 654.40 A100.30 100.30 0 1 1 421.17 747.35 Z" fill="#116a9b" stroke="#fff" stroke-width="2" stroke-linejoin="round"/><path d="M521.20 754.70 L421.17 747.35 A100.30 100.30 0 0 1 451.27 682.79 Z" fill="#c00000" stroke="#fff" stroke-width="2" stroke-linejoin="round"/><path d="M521.20 754.70 L451.27 682.79 A100.30 100.30 0 0 1 472.57 666.98 Z" fill="#a5a5a5" stroke="#fff" stroke-width="2" stroke-linejoin="round"/><path d="M521.20 754.70 L472.57 666.98 A100.30 100.30 0 0 1 521.20 654.40 Z" fill="#00b0f0" stroke="#fff" stroke-width="2" stroke-linejoin="round"/></svg>
<div class="lbl" style="left:500.7px;width:70px;top:626.5px">精粉库存<span class="n">,</span></div>
<div class="lbl" style="left:501.5px;width:70px;top:642.5px"><span class="n">8%</span></div>
<div class="lbl" style="left:398.0px;width:70px;top:645.0px">球团矿库</div>
<div class="lbl" style="left:399.3px;width:70px;top:659.8px">存<span class="n">, 4%</span></div>
<div class="lbl" style="left:353.0px;width:70px;top:716.8px">块矿库存<span class="n">,</span></div>
<div class="lbl" style="left:355.0px;width:70px;top:732.0px"><span class="n">11%</span></div>
<div class="lbl" style="left:580.2px;width:70px;top:826.5px">粉矿库存<span class="n">,</span></div>
<div class="lbl" style="left:582.4px;width:70px;top:841.5px"><span class="n">76%</span></div>
<div class="ct" style="left:163px;top:902px;font-size:15px;letter-spacing:1.1px">非主流矿山库存变化趋势图（单位：<span class="n" style="font-size:13px">%</span>）</div>
<div class="a" style="left:472px;top:917px;width:5px;height:5px;background:#c00000"></div>
<div class="lbl lg" style="left:479px;top:915px">总库存</div>
<div class="a" style="left:521px;top:917px;width:5px;height:5px;background:#156b9d"></div>
<div class="lbl lg" style="left:527px;top:915px">贸易矿总库存</div>
<div class="dl" style="left:10px;width:37px;top:958.3px;text-align:right;color:#000">40%</div>
<div class="dl" style="left:10px;width:37px;top:987.6px;text-align:right;color:#000">30%</div>
<div class="dl" style="left:10px;width:37px;top:1016.9px;text-align:right;color:#000">20%</div>
<div class="dl" style="left:10px;width:37px;top:1046.2px;text-align:right;color:#000">10%</div>
<div class="dl" style="left:10px;width:37px;top:1075.5px;text-align:right;color:#000">0%</div>
<div class="dl" style="left:10px;width:37px;top:1104.8px;text-align:right;color:#000">-10%</div>
<div class="a" style="left:55px;top:1079px;width:552px;height:1px;background:#d9d9d9"></div>
<div class="a" style="left:77.7px;top:1080.0px;width:21.0px;height:5.9px;background:#c00000"></div>
<div class="a" style="left:104.3px;top:1080.0px;width:20.6px;height:5.9px;background:#156b9d"></div>
<div class="lbl" style="left:71.3px;width:60px;top:943.5px;font-size:12.5px">印度</div>
<div class="a" style="left:169.8px;top:1080.0px;width:21.0px;height:2.9px;background:#c00000"></div>
<div class="a" style="left:196.4px;top:1080.0px;width:20.6px;height:2.9px;background:#156b9d"></div>
<div class="lbl" style="left:163.4px;width:60px;top:943.5px;font-size:12.5px">乌克兰</div>
<div class="a" style="left:261.8px;top:1080.0px;width:21.0px;height:8.8px;background:#c00000"></div>
<div class="a" style="left:288.4px;top:1080.0px;width:20.6px;height:8.8px;background:#156b9d"></div>
<div class="lbl" style="left:255.4px;width:60px;top:943.5px;font-size:12.5px">南非</div>
<div class="a" style="left:352.9px;top:1079.3px;width:21.0px;height:0.7px;background:#c00000"></div>
<div class="a" style="left:379.5px;top:1079.3px;width:20.6px;height:0.7px;background:#156b9d"></div>
<div class="lbl" style="left:346.5px;width:60px;top:943.5px;font-size:12.5px">智利</div>
<div class="a" style="left:445.4px;top:1080.0px;width:21.0px;height:14.7px;background:#c00000"></div>
<div class="a" style="left:472.0px;top:1080.0px;width:20.6px;height:14.7px;background:#156b9d"></div>
<div class="lbl" style="left:439.0px;width:60px;top:943.5px;font-size:12.5px">秘鲁</div>
<div class="a" style="left:537.1px;top:983.3px;width:21.0px;height:96.7px;background:#c00000"></div>
<div class="a" style="left:563.7px;top:983.3px;width:20.6px;height:96.7px;background:#156b9d"></div>
<div class="lbl" style="left:530.7px;width:60px;top:943.5px;font-size:12.5px">加拿大</div>
<div class="dl" style="left:68.2px;width:40px;top:1094.5px">-2%</div>
<div class="dl" style="left:93.8px;width:40px;top:1094.5px">-2%</div>
<div class="dl" style="left:159.7px;width:40px;top:1092.5px">-1%</div>
<div class="dl" style="left:186.0px;width:40px;top:1092.5px">-1%</div>
<div class="dl" style="left:251.5px;width:40px;top:1095.5px">-3%</div>
<div class="dl" style="left:277.5px;width:40px;top:1095.5px">-3%</div>
<div class="dl" style="left:343.0px;width:40px;top:1060.8px">0%</div>
<div class="dl" style="left:369.5px;width:40px;top:1060.8px">0%</div>
<div class="dl" style="left:435.4px;width:40px;top:1101.5px">-5%</div>
<div class="dl" style="left:461.7px;width:40px;top:1101.5px">-5%</div>
<div class="dl" style="left:527.8px;width:40px;top:964.5px">33%</div>
<div class="dl" style="left:553.7px;width:40px;top:964.5px">33%</div>
<div class="a s" style="left:4px;top:1144px;font-size:11.85px;font-weight:500;line-height:14px;white-space:nowrap">•注：上述非主流品种占港口非主流矿总库存60%</div>
<div class="a" style="left:2px;top:1166px;width:654px;height:40px;background:#136c9c"></div>
<div class="ln" style="left:0;top:0;width:658px;height:1px"></div>
<div class="ln" style="left:0;top:0;width:1px;height:1208px"></div>
<div class="ln" style="left:656px;top:151px;width:2px;height:1057px"></div>
<div class="ln" style="left:657px;top:0;width:1px;height:152px"></div>
<div class="ln" style="left:0;top:1206px;width:658px;height:2px"></div>
</body></html>
